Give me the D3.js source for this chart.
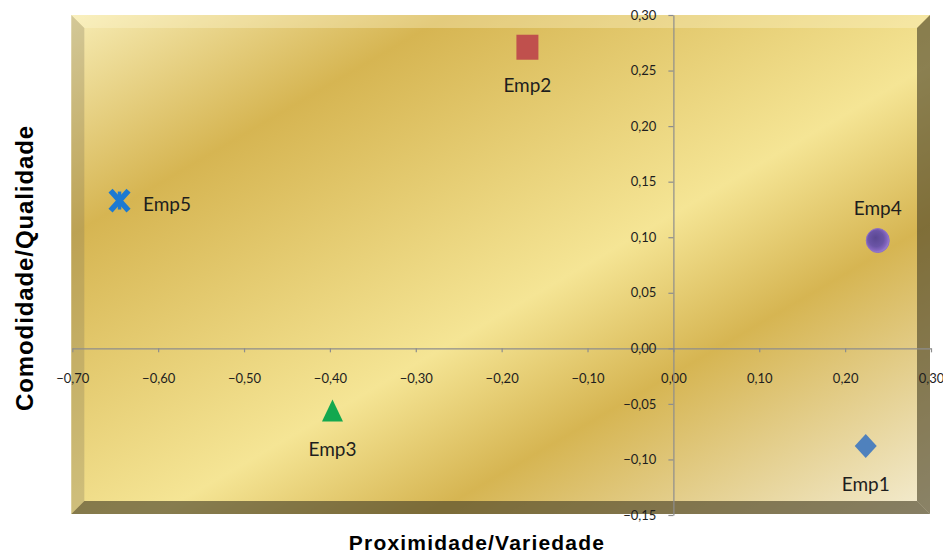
<!DOCTYPE html>
<html>
<head>
<meta charset="utf-8">
<script src="https://cdnjs.cloudflare.com/ajax/libs/d3/7.8.5/d3.min.js"></script>
<style>
  html, body { margin: 0; padding: 0; background: #ffffff; }
  svg { display: block; }
</style>
</head>
<body>
<svg id="chart" width="943" height="556"></svg>
<script>
// ---- data ----
const names = ["Emp1", "Emp2", "Emp3", "Emp4", "Emp5"];
const xValues = [0.224, -0.170, -0.397, 0.238, -0.645];
const yValues = [-0.088, 0.271, -0.056, 0.097, 0.133];
const xTicks = [-0.70, -0.60, -0.50, -0.40, -0.30, -0.20, -0.10, 0.00, 0.10, 0.20, 0.30];
const yTicks = [-0.15, -0.10, -0.05, 0.00, 0.05, 0.10, 0.15, 0.20, 0.25, 0.30];
const xTitle = "Proximidade/Variedade";
const yTitle = "Comodidade/Qualidade";

// ---- styles ----
const markerStyle = {
  Emp1: { shape: "diamond", color: "#4f81bd" },
  Emp2: { shape: "square", color: "#c0504d" },
  Emp3: { shape: "triangle", color: "#13a84f" },
  Emp4: { shape: "circle", color: "url(#purpleBall)" },
  Emp5: { shape: "x", color: "#1c7ad2" }
};
const labelPlacement = { Emp1: "below", Emp2: "below", Emp3: "below", Emp4: "above", Emp5: "right" };

const svg = d3.select("#chart");
const x = d3.scaleLinear().domain([-0.7, 0.3]).range([72.3, 931]);
const y = d3.scaleLinear().domain([-0.15, 0.30]).range([515, 15]);
const loc = d3.formatLocale({ decimal: ",", thousands: ".", grouping: [3], currency: ["", ""] });
const fmt = loc.format(".2f");

const defs = svg.append("defs");
const g = defs.append("linearGradient").attr("id", "gold")
  .attr("x1", 0).attr("y1", 0).attr("x2", 1).attr("y2", 1);
[[0, "#f7ecb4"], [0.22, "#d6b552"], [0.55, "#f5e595"], [0.71, "#d6b552"], [1, "#f4edd3"]]
  .forEach(([o, c]) => g.append("stop").attr("offset", o).attr("stop-color", c));

const rg = defs.append("radialGradient").attr("id", "purpleBall")
  .attr("cx", 0.45).attr("cy", 0.45).attr("r", 0.55).attr("fx", 0.4).attr("fy", 0.38);
[[0, "#5a4792"], [0.6, "#6a54a6"], [0.85, "#8465bf"], [1, "#9a80d0"]]
  .forEach(([o, c]) => rg.append("stop").attr("offset", o).attr("stop-color", c));

// ---- plot area with bevel ----
const L = x(-0.7) - 1, R = x(0.3) - 1, T = y(0.30), B = y(-0.15) - 1;
const bv = 13;
svg.append("rect").attr("x", L).attr("y", T).attr("width", R - L).attr("height", B - T)
  .attr("fill", "url(#gold)");
const bevels = [
  { pts: [[L, T], [R, T], [R - bv, T + bv], [L + bv, T + bv]], fill: "rgba(255,250,215,0.32)" },
  { pts: [[L, T], [L + bv, T + bv], [L + bv, B - bv], [L, B]], fill: "rgba(128,118,88,0.30)" },
  { pts: [[R, T], [R, B], [R - bv, B - bv], [R - bv, T + bv]], fill: "rgba(78,70,42,0.64)" },
  { pts: [[L, B], [L + bv, B - bv], [R - bv, B - bv], [R, B]], fill: "rgba(78,70,42,0.66)" }
];
svg.selectAll("polygon.bevel").data(bevels).enter().append("polygon")
  .attr("class", "bevel")
  .attr("points", d => d.pts.map(p => p.join(",")).join(" "))
  .attr("fill", d => d.fill);

// ---- axes ----
const axisColor = "#8d8d8d";
const xAxis = svg.append("g").attr("transform", `translate(0,${y(0)})`)
  .call(d3.axisBottom(x).tickValues(xTicks).tickFormat(fmt).tickSize(4).tickSizeOuter(0).tickPadding(21));
const yAxis = svg.append("g").attr("transform", `translate(${x(0)},0)`)
  .call(d3.axisLeft(y).tickValues(yTicks).tickFormat(fmt).tickSize(5).tickSizeOuter(0).tickPadding(12));
[xAxis, yAxis].forEach(a => {
  a.select(".domain").attr("stroke", axisColor).attr("stroke-width", 1.2);
  a.selectAll(".tick line").attr("stroke", axisColor).attr("stroke-width", 1.2);
  a.selectAll(".tick text").attr("fill", "#1e1e1e")
    .style("font-family", "Lato, 'Open Sans', sans-serif").style("font-size", "13px");
});

// ---- markers ----
function shapePath(shape) {
  switch (shape) {
    case "diamond": return "M0,-12L11,0L0,12L-11,0Z";
    case "square": return "M-11,-12.5H11V12.5H-11Z";
    case "triangle": return "M0,-11L10.5,11H-10.5Z";
    default: return null;
  }
}
const pts = names.map((n, i) => ({ name: n, xv: xValues[i], yv: yValues[i] }));
const mk = svg.selectAll("g.pt").data(pts).enter().append("g")
  .attr("class", "pt")
  .attr("transform", d => `translate(${x(d.xv)},${y(d.yv)})`);
mk.each(function (d) {
  const s = markerStyle[d.name];
  const gg = d3.select(this);
  if (s.shape === "circle") {
    gg.append("ellipse").attr("rx", 11.5).attr("ry", 12).attr("fill", s.color)
      .attr("stroke", "#8b6fc6").attr("stroke-width", 1);
  } else if (s.shape === "x") {
    gg.append("path").attr("d", "M-9,-10L9,10M9,-10L-9,10")
      .attr("stroke", s.color).attr("stroke-width", 5.5).attr("fill", "none");
    gg.append("path").attr("d", "M0,-9V9")
      .attr("stroke", s.color).attr("stroke-width", 3.5).attr("fill", "none");
  } else {
    gg.append("path").attr("d", shapePath(s.shape)).attr("fill", s.color);
  }
});

// ---- data labels ----
svg.selectAll("text.lbl").data(pts).enter().append("text")
  .attr("class", "lbl")
  .attr("x", d => {
    const p = labelPlacement[d.name];
    return p === "right" ? x(d.xv) + 23.5 : x(d.xv);
  })
  .attr("y", d => {
    const p = labelPlacement[d.name];
    if (p === "below") return y(d.yv) + 45;
    if (p === "above") return y(d.yv) - 26;
    return y(d.yv) + 10;
  })
  .attr("text-anchor", d => labelPlacement[d.name] === "right" ? "start" : "middle")
  .attr("fill", "#1e1e1e")
  .style("font-family", "Lato, 'Open Sans', sans-serif")
  .style("font-size", "19px")
  .text(d => d.name);

// ---- axis titles ----
svg.append("text")
  .attr("x", 477).attr("y", 550)
  .attr("text-anchor", "middle")
  .style("font-family", "'Liberation Sans', Arial, sans-serif")
  .style("font-weight", "bold").style("font-size", "21px").style("letter-spacing", "1.2px")
  .attr("fill", "#000")
  .text(xTitle);
svg.append("text")
  .attr("transform", "translate(33,268) rotate(-90)")
  .attr("text-anchor", "middle")
  .style("font-family", "'Liberation Sans', Arial, sans-serif")
  .style("font-weight", "bold").style("font-size", "24px").style("letter-spacing", "0.9px")
  .attr("fill", "#000")
  .text(yTitle);
</script>
</body>
</html>
